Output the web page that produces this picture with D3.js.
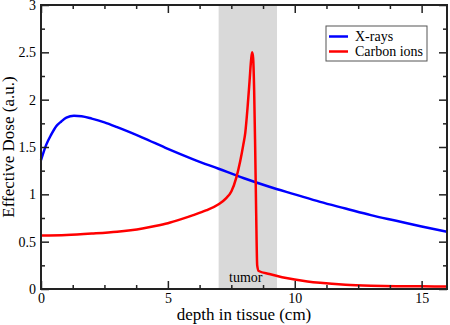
<!DOCTYPE html>
<html>
<head>
<meta charset="utf-8">
<script src="https://cdn.jsdelivr.net/npm/d3@7"></script>
<style>
  body { margin: 0; background: #fff; }
  text { font-family: "Liberation Serif", "Times New Roman", serif; fill: #000; }
</style>
</head>
<body>
<div id="chart"></div>
<script>
// values
const xrayDepth = [0, 0.2, 0.4, 0.6, 0.8, 1.0, 1.3, 1.6, 2.0, 2.5, 3, 4, 5, 6, 7, 8, 9, 10, 11, 12, 13, 14, 15, 16];
const xrayDose  = [1.36, 1.52, 1.63, 1.72, 1.77, 1.81, 1.83, 1.825, 1.80, 1.76, 1.71, 1.60, 1.48, 1.37, 1.27, 1.17, 1.08, 1.00, 0.92, 0.85, 0.78, 0.72, 0.66, 0.605];

const carbonDepth = [0, 1, 2, 3, 4, 4.5, 5, 5.5, 6, 6.5, 7, 7.3, 7.5, 7.7, 7.85, 7.97, 8.05, 8.15, 8.22, 8.28, 8.32, 8.36, 8.40, 8.44, 8.48, 8.52, 8.58, 9, 9.5, 10, 10.5, 11, 12, 13, 14, 15, 16];
const carbonDose  = [0.565, 0.57, 0.585, 0.605, 0.64, 0.665, 0.695, 0.735, 0.78, 0.83, 0.895, 0.96, 1.03, 1.18, 1.35, 1.52, 1.65, 1.95, 2.2, 2.42, 2.5, 2.44, 2.1, 1.5, 0.8, 0.25, 0.19, 0.158, 0.125, 0.1, 0.08, 0.065, 0.045, 0.035, 0.03, 0.028, 0.026];

const tumorRange = [7, 9.3];
const xMajorTicks = [0, 5, 10, 15];
const yMajorTicks = [0, 0.5, 1, 1.5, 2, 2.5, 3];
const seriesNames = ["X-rays", "Carbon ions"];
const seriesColors = ["#0000ff", "#ff0000"];

var width = 450, height = 325;
var margin = {top: 5, right: 3, bottom: 36, left: 41};

var svg = d3.select("#chart")
    .append("svg")
    .attr("width", width)
    .attr("height", height);

var x = d3.scaleLinear()
    .domain([0, 16])
    .range([margin.left, width - margin.right]);

var y = d3.scaleLinear()
    .domain([0, 3])
    .range([height - margin.bottom, margin.top]);

var xMinor = d3.range(0, 16.01, 1.25).filter(d => xMajorTicks.indexOf(d) < 0);
var yMinor = d3.range(0, 3.01, 0.25).filter(d => yMajorTicks.indexOf(d) < 0);

// tumor band
svg.append("rect")
    .attr("x", x(tumorRange[0]))
    .attr("y", y(3))
    .attr("width", x(tumorRange[1]) - x(tumorRange[0]))
    .attr("height", y(0) - y(3))
    .attr("fill", "#d9d9d9");

svg.append("text")
    .attr("x", (x(tumorRange[0]) + x(tumorRange[1])) / 2 - 2)
    .attr("y", y(0) - 7)
    .attr("text-anchor", "middle")
    .style("font-size", "14px")
    .text("tumor");

// lines
var line = d3.line()
    .x(d => x(d[0]))
    .y(d => y(d[1]))
    .curve(d3.curveMonotoneX);

svg.append("path")
    .datum(xrayDepth.map((d, i) => [d, xrayDose[i]]))
    .attr("d", line)
    .attr("fill", "none")
    .attr("stroke", seriesColors[0])
    .attr("stroke-width", 2.5);

svg.append("path")
    .datum(carbonDepth.map((d, i) => [d, carbonDose[i]]))
    .attr("d", line)
    .attr("fill", "none")
    .attr("stroke", seriesColors[1])
    .attr("stroke-width", 2.5);

// axes, ticks pointing inward on all four sides
function addAxis(axis, tf, values, size, labels) {
    var g = svg.append("g")
        .attr("transform", tf)
        .call(axis.tickValues(values).tickSizeInner(-size).tickSizeOuter(0).tickPadding(size + 4));
    g.select(".domain").remove();
    g.selectAll("line").attr("stroke", "#222").attr("stroke-width", 1.5);
    if (!labels) g.selectAll("text").remove();
    else g.selectAll("text").style("font-size", "14px").style("font-family", "Liberation Serif, serif").attr("fill", "#000");
    return g;
}

var bottomY = y(0), topY = y(3), leftX = x(0), rightX = x(16);

var xb = addAxis(d3.axisBottom(x).tickFormat(d3.format("d")), "translate(0," + bottomY + ")", xMajorTicks, 8, true);
xb.selectAll("text").attr("dy", "0.71em").attr("y", 4);
addAxis(d3.axisBottom(x), "translate(0," + bottomY + ")", xMinor, 4, false);
addAxis(d3.axisTop(x), "translate(0," + topY + ")", xMajorTicks, 8, false);
addAxis(d3.axisTop(x), "translate(0," + topY + ")", xMinor, 4, false);

var yl = addAxis(d3.axisLeft(y).tickFormat(d => d3.format("")(d)), "translate(" + leftX + ",0)", yMajorTicks, 8, true);
yl.selectAll("text").attr("x", -5);
addAxis(d3.axisLeft(y), "translate(" + leftX + ",0)", yMinor, 4, false);
addAxis(d3.axisRight(y), "translate(" + rightX + ",0)", yMajorTicks, 8, false);
addAxis(d3.axisRight(y), "translate(" + rightX + ",0)", yMinor, 4, false);

// frame
svg.append("rect")
    .attr("x", leftX)
    .attr("y", topY)
    .attr("width", rightX - leftX)
    .attr("height", bottomY - topY)
    .attr("fill", "none")
    .attr("stroke", "#222")
    .attr("stroke-width", 2);

// axis titles
svg.append("text")
    .attr("x", (leftX + rightX) / 2)
    .attr("y", 320)
    .attr("text-anchor", "middle")
    .style("font-size", "17px")
    .text("depth in tissue (cm)");

svg.append("text")
    .attr("transform", "translate(14," + ((topY + bottomY) / 2) + ")rotate(-90)")
    .attr("text-anchor", "middle")
    .style("font-size", "17px")
    .text("Effective Dose (a.u.)");

// legend
var legend = svg.append("g").attr("transform", "translate(326,26)");
legend.append("rect")
    .attr("width", 101)
    .attr("height", 35)
    .attr("fill", "#fff")
    .attr("stroke", "#555")
    .attr("stroke-width", 1);

seriesNames.forEach(function(name, i) {
    var ly = 10.5 + i * 15;
    legend.append("line")
        .attr("x1", 3).attr("x2", 22)
        .attr("y1", ly).attr("y2", ly)
        .attr("stroke", seriesColors[i])
        .attr("stroke-width", 2.5);
    legend.append("text")
        .attr("x", 29)
        .attr("y", ly + 4.5)
        .style("font-size", "14px")
        .text(name);
});
</script>
</body>
</html>
